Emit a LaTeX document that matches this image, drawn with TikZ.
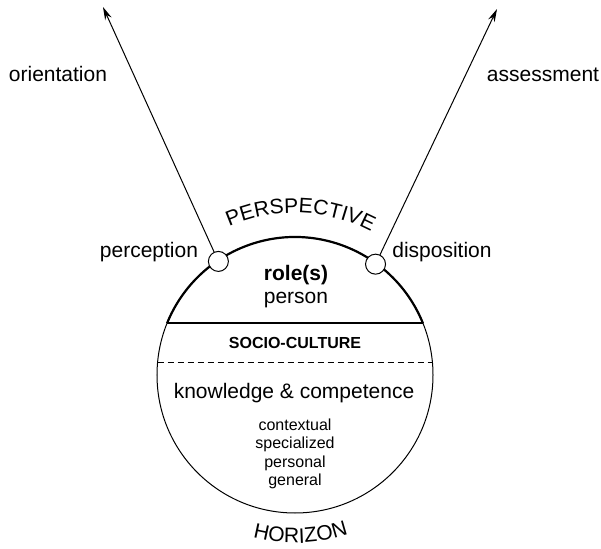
\documentclass[tikz,border=0pt]{standalone}
\usepackage{fontspec}
\setmainfont{Liberation Sans}
\usetikzlibrary{arrows.meta,decorations.text}
\begin{document}
\begin{tikzpicture}[x=1pt,y=1pt,
  label text/.style={font=\fontsize{21}{25}\selectfont, inner sep=0, anchor=base},
  small text/.style={font=\fontsize{16}{19}\selectfont, inner sep=0, anchor=base},
  port/.style={circle, draw, line width=1pt, fill=white, minimum size=20pt, inner sep=0},
  pointer/.style={line width=1pt, -{Stealth[length=13pt,width=7pt]}},
  thin rim/.style={line width=1pt},
  thick rim/.style={line width=2.2pt},
]
\useasboundingbox (-295,-173) rectangle (306,375);

% the sphere of the actor
\node[circle, draw, thin rim, minimum size=276pt, outer sep=0, inner sep=0] (ring) at (0,0) {};
\draw[thick rim] (ring.22) arc[start angle=22, end angle=158, radius=138];
\draw[thick rim] (ring.158) -- (ring.22);
\draw[thin rim, dash pattern=on 6pt off 4pt] (ring.175) -- (ring.5);

% curved titles
\path[decorate, decoration={text along path, text align=center,
  text={|\fontsize{21}{25}\selectfont|PERSPECTIVE}}]
  (148:162) arc[start angle=148, end angle=28, radius=162];
\path[decorate, decoration={text along path, text align=center,
  text={|\fontsize{21}{25}\selectfont|HORIZON}}]
  (202:168) arc[start angle=202, end angle=342, radius=168];

% ports and outgoing arrows
\node[port] (perc) at (124:137) {};
\node[port] (disp) at (54:137) {};
\coordinate (tipL) at (-192,368);
\coordinate (tipR) at (202,366);
\draw[pointer] (perc) -- (tipL);
\draw[pointer] (disp) -- (tipR);

% labels
\node[label text] (orient) at (-237,293) {orientation};
\node[label text] (assess) at (248,293) {assessment};
\node[label text] (percl) at (-146,117) {perception};
\node[label text] (displ) at (147,117) {disposition};
\node[label text, font=\fontsize{21}{25}\selectfont\bfseries] (role) at (1,94) {role(s)};
\node[label text] (person) at (1,71) {person};
\node[small text, font=\fontsize{16}{19}\selectfont\bfseries] (socio) at (0,26) {SOCIO-CULTURE};
\node[label text] (know) at (-1,-23) {knowledge \& competence};
\node[small text] (kc1) at (0,-55) {contextual};
\node[small text] (kc2) at (0,-73.5) {specialized};
\node[small text] (kc3) at (0,-92) {personal};
\node[small text] (kc4) at (0,-110) {general};
\end{tikzpicture}
\end{document}
